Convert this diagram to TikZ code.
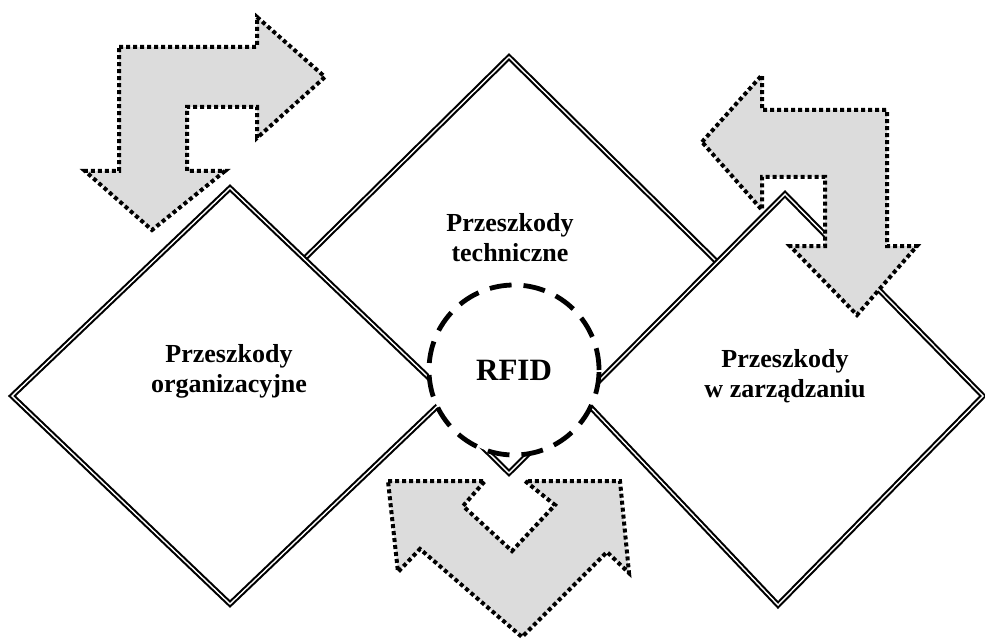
\documentclass[tikz,border=0pt]{standalone}
\usepackage{fontspec}
\setmainfont{Liberation Serif}
\begin{document}
\begin{tikzpicture}[x=1pt,y=-1pt,
  dbox/.style={draw=black, double=white, double distance=1.4pt, line width=2.1pt, fill=white, line join=miter},
  garrow/.style={fill=arrowgray, draw=black, line width=4pt, dash pattern=on 4pt off 3pt, line join=miter},
  ring/.style={draw=black, fill=white, line width=4.8pt, dash pattern=on 22pt off 12pt},
  lbl/.style={font=\bfseries\fontsize{26}{30}\selectfont, align=center, inner sep=0pt},
]
\definecolor{arrowgray}{RGB}{220,220,220}
\useasboundingbox (0,0) rectangle (985,639);
% diamonds
\draw[dbox] (509,57) -- (720,265) -- (509,473) -- (298,265) -- cycle;
\draw[dbox] (230,188) -- (448,396) -- (230,604) -- (12,396) -- cycle;
\draw[dbox] (785,194) -- (983,396) -- (778,605) -- (582,398) -- cycle;
% arrows
\draw[garrow] (119,47) -- (257,47) -- (257,17) -- (325,77) -- (257,138) -- (257,107) -- (187,107) -- (187,171) -- (225,171) -- (152,230) -- (85,171) -- (119,171) -- cycle;
\draw[garrow] (702,142) -- (762,75) -- (762,110) -- (887,110) -- (887,246) -- (917,246) -- (857,315) -- (790,246) -- (825,246) -- (825,177) -- (762,177) -- (762,210) -- cycle;
\draw[garrow] (388,481) -- (485,481) -- (463,506) -- (512,551) -- (555,505) -- (525,481) -- (620,481) -- (629,573) -- (607,552) -- (522,637) -- (420,549) -- (398,572) -- cycle;
% circle
\node[ring, circle, minimum size=170pt, inner sep=0pt] (rfidc) at (514,370) {};
\node[font=\bfseries\fontsize{31}{36}\selectfont, inner sep=0pt, anchor=base] (rfid) at (514,380) {RFID};
% labels
\node[lbl] (org) at (229,371) {Przeszkody\\organizacyjne};
\node[lbl] (tech) at (510,238) {Przeszkody\\techniczne};
\node[lbl] (zarz) at (785,376) {Przeszkody\\w zarządzaniu};
\end{tikzpicture}
\end{document}
